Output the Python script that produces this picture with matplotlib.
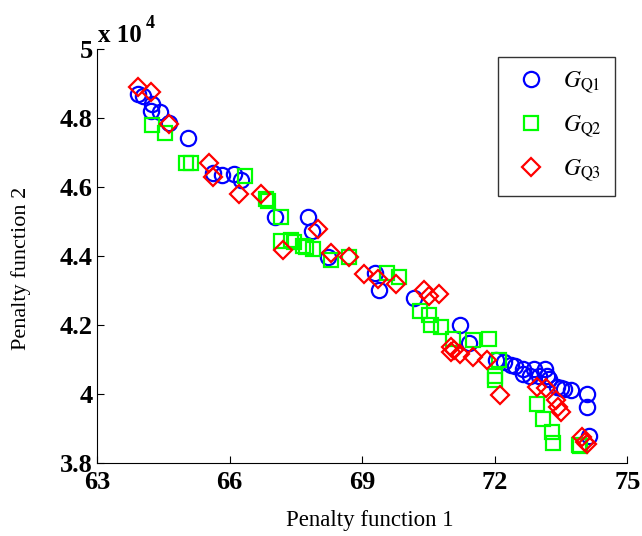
import matplotlib
matplotlib.use('Agg')
import matplotlib.pyplot as plt

plt.rcParams['font.family'] = ['Liberation Serif', 'DejaVu Serif']
plt.rcParams['mathtext.fontset'] = 'stix'

# G_Q1 (blue circles)
q1_x = [63.92, 64.05, 64.24, 64.22, 64.43, 64.63, 65.05, 65.63, 65.84, 66.10,
        66.25, 67.02, 67.78, 67.87, 68.23, 69.29, 69.39, 70.18, 71.21, 71.42,
        72.02, 72.21, 72.36, 72.47, 72.63, 72.65, 72.81, 72.89, 73.00, 73.13,
        73.19, 73.23, 73.42, 73.49, 73.56, 73.72, 74.09, 74.09, 74.13]
q1_y = [4.870, 4.862, 4.841, 4.820, 4.817, 4.786, 4.741, 4.639, 4.634, 4.637,
        4.619, 4.511, 4.513, 4.472, 4.397, 4.349, 4.299, 4.277, 4.200, 4.148,
        4.098, 4.091, 4.084, 4.081, 4.072, 4.057, 4.052, 4.072, 4.052, 4.072,
        4.052, 4.043, 4.018, 4.017, 4.014, 4.009, 3.999, 3.960, 3.878]

# G_Q2 (green squares)
q2_x = [64.24, 64.54, 65.01, 65.12, 66.35, 66.83, 66.87, 67.16, 67.17, 67.40,
        67.47, 67.66, 67.74, 67.89, 68.30, 68.71, 69.56, 69.84, 70.32, 70.52,
        70.56, 70.78, 71.05, 71.50, 71.87, 72.10, 72.01, 72.01, 72.96, 73.10,
        73.30, 73.32, 73.90, 73.94]
q2_y = [4.779, 4.757, 4.670, 4.670, 4.630, 4.564, 4.559, 4.512, 4.443, 4.446,
        4.439, 4.429, 4.424, 4.419, 4.388, 4.395, 4.349, 4.337, 4.239, 4.229,
        4.200, 4.193, 4.159, 4.156, 4.157, 4.096, 4.052, 4.040, 3.970, 3.927,
        3.888, 3.856, 3.852, 3.849]

# G_Q3 (red diamonds)
q3_x = [63.92, 64.22, 64.62, 65.53, 65.63, 66.21, 66.71, 68.00, 67.21, 68.30,
        68.71, 69.05, 69.35, 69.77, 70.41, 70.52, 70.74, 71.01, 71.01, 71.08,
        71.22, 71.50, 71.82, 72.11, 72.96, 73.17, 73.38, 73.43, 73.49, 73.98,
        74.05, 74.09]
q3_y = [4.890, 4.876, 4.782, 4.670, 4.627, 4.579, 4.579, 4.477, 4.417, 4.407,
        4.397, 4.347, 4.332, 4.318, 4.299, 4.284, 4.289, 4.134, 4.120, 4.127,
        4.115, 4.105, 4.098, 3.996, 4.020, 4.017, 3.980, 3.960, 3.946, 3.873,
        3.859, 3.854]

x_ticks = [63, 66, 69, 72, 75]
y_ticks = [3.8, 4.0, 4.2, 4.4, 4.6, 4.8, 5.0]
y_tick_labels = ['3.8', '4', '4.2', '4.4', '4.6', '4.8', '5']

fig = plt.figure(figsize=(6.42, 5.36), dpi=100)
ax = fig.add_axes([0.151, 0.137, 0.826, 0.772])

ax.plot(q1_x, q1_y, 'o', ls='none', mfc='none', mec='#0000ff', ms=11, mew=1.6,
        label=r'$G_{\mathrm{Q1}}$')
ax.plot(q2_x, q2_y, 's', ls='none', mfc='none', mec='#00ff00', ms=9.5, mew=1.6,
        label=r'$G_{\mathrm{Q2}}$')
ax.plot(q3_x, q3_y, 'D', ls='none', mfc='none', mec='#ff0000', ms=9.5, mew=1.6,
        label=r'$G_{\mathrm{Q3}}$')

ax.set_xlim(63, 75)
ax.set_ylim(3.8, 5.0)
ax.set_xticks(x_ticks)
ax.set_yticks(y_ticks)
ax.set_yticklabels(y_tick_labels)
ax.tick_params(direction='in', length=5, width=0.8, labelsize=19)
ax.tick_params(axis='x', pad=6)
ax.tick_params(axis='y', pad=3)
for lbl in ax.get_xticklabels() + ax.get_yticklabels():
    lbl.set_fontweight('bold')
ax.spines['top'].set_visible(False)
ax.spines['right'].set_visible(False)

ax.set_xlabel('Penalty function 1', fontsize=16.5)
ax.set_ylabel('Penalty function 2', fontsize=16)
ax.xaxis.set_label_coords(0.515, -0.115)
ax.yaxis.set_label_coords(-0.124, 0.47)

# axis multiplier, drawn as in the original
fig.text(0.152, 0.922, 'x 10', fontsize=18, fontweight='bold',
         ha='left', va='baseline')
fig.text(0.227, 0.948, '4', fontsize=13, fontweight='bold',
         ha='left', va='baseline')

leg = ax.legend(loc='upper right', bbox_to_anchor=(0.958, 0.894),
                bbox_transform=fig.transFigure, fontsize=17,
                frameon=True, fancybox=False, edgecolor='black',
                borderpad=0.55, labelspacing=0.8, handlelength=1.7,
                handletextpad=0.5, borderaxespad=0)
leg.get_frame().set_linewidth(1.0)

fig.savefig('out.png', dpi=100)
